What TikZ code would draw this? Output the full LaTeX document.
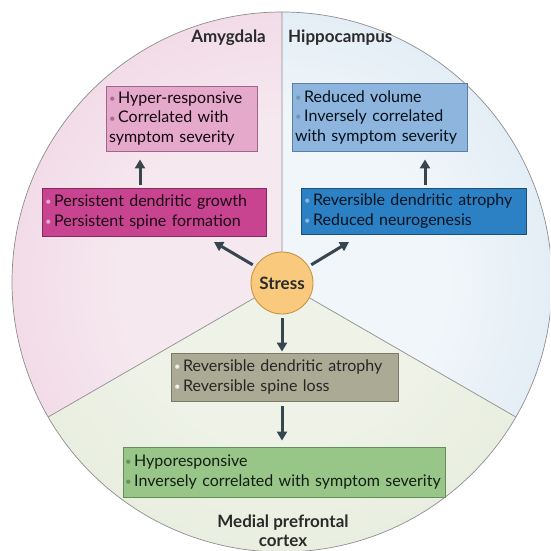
\documentclass[tikz,border=0pt]{standalone}
\usepackage{fontspec}
\usepackage{graphicx}
\setmainfont{Lato}
\usetikzlibrary{arrows.meta}
\hyphenpenalty=10000
\exhyphenpenalty=10000

% region tints
\definecolor{amyEdge}{HTML}{E7BDD4}
\definecolor{amyMid}{HTML}{F6E8EF}
\definecolor{hipEdge}{HTML}{C3DAEC}
\definecolor{hipMid}{HTML}{F1F6FA}
\definecolor{pfcEdge}{HTML}{DCE5CF}
\definecolor{pfcMid}{HTML}{EEF2E7}
% boxes
\definecolor{amyLightFill}{HTML}{E4A9CB}
\definecolor{amyLightLine}{HTML}{A2648B}
\definecolor{amyDarkFill}{HTML}{C84490}
\definecolor{amyDarkLine}{HTML}{86295E}
\definecolor{hipLightFill}{HTML}{8DB5DE}
\definecolor{hipLightLine}{HTML}{5B7FA6}
\definecolor{hipDarkFill}{HTML}{2C80C4}
\definecolor{hipDarkLine}{HTML}{1D4E78}
\definecolor{pfcGreyFill}{HTML}{ABAB95}
\definecolor{pfcGreyLine}{HTML}{7A7A68}
\definecolor{pfcGreenFill}{HTML}{98C588}
\definecolor{pfcGreenLine}{HTML}{658F59}
\definecolor{stressFill}{HTML}{F9CA7E}
\definecolor{stressLine}{HTML}{C8953E}
\definecolor{arrowInk}{HTML}{37454F}
\definecolor{labelInk}{HTML}{2A2A2A}
\definecolor{rimGrey}{HTML}{8E8E8E}

\pgfdeclareradialshading{amyglow}{\pgfpointorigin}{color(0bp)=(amyMid); color(15bp)=(amyMid); color(50bp)=(amyEdge)}
\pgfdeclareradialshading{hipglow}{\pgfpointorigin}{color(0bp)=(hipMid); color(15bp)=(hipMid); color(50bp)=(hipEdge)}
\pgfdeclareradialshading{pfcglow}{\pgfpointorigin}{color(0bp)=(pfcMid); color(15bp)=(pfcMid); color(50bp)=(pfcEdge)}

\newcommand\boxfont{\fontsize{16}{19.5}\selectfont}
\newcommand\bul[1]{{\color{#1}\raisebox{0.1ex}{\scalebox{0.7}{\textbullet}}}\,}

\tikzset{
  panel/.style={draw, line width=0.9pt, inner xsep=3pt, inner ysep=2pt,
    align=left, font=\boxfont, anchor=center},
  lbl/.style={font=\fontsize{17}{19}\selectfont\bfseries, text=labelInk, inner sep=0pt},
  arr/.style={draw=arrowInk, line width=3pt,
    -{Triangle[length=9pt,width=10pt]}},
  divider/.style={draw=rimGrey, line width=0.7pt}
}

\begin{document}
\begin{tikzpicture}[x=1pt,y=-1pt]
\useasboundingbox (0,0) rectangle (550,551);
\coordinate (C) at (282,282);

\begin{scope}
  \clip (0,0) rectangle (550,551);
  \begin{scope}
    \clip (C) circle[radius=270];
    % amygdala sector
    \begin{scope}
      \clip[shift={(C)}] (0,0) -- (150:700) -- (210:700) -- (270:700) -- cycle;
      \shade[shading=amyglow] (C) circle[radius=270];
    \end{scope}
    % hippocampus sector
    \begin{scope}
      \clip[shift={(C)}] (0,0) -- (270:700) -- (330:700) -- (30:700) -- cycle;
      \shade[shading=hipglow] (C) circle[radius=270];
    \end{scope}
    % medial prefrontal sector
    \begin{scope}
      \clip[shift={(C)}] (0,0) -- (30:700) -- (90:700) -- (150:700) -- cycle;
      \shade[shading=pfcglow] (C) circle[radius=270];
    \end{scope}
  \end{scope}
  % sector boundaries and rim
  \draw[divider, shift={(C)}] (0,0) -- (270:270) (0,0) -- (150:270) (0,0) -- (30:270);
  \draw[divider] (C) circle[radius=270];
\end{scope}

% region titles
\node[lbl, anchor=east] (lamy) at (266,38) {Amygdala};
\node[lbl, anchor=west] (lhip) at (288,38) {Hippocampus};
\node[lbl, align=center, anchor=south] (lpfc) at (283,547) {Medial prefrontal\\cortex};

% amygdala boxes
\node[panel, fill=amyLightFill, draw=amyLightLine, text=black!85!amyDarkLine,
      text width=145pt, minimum height=65pt] (amy2) at (181.5,118.5)
  {\bul{amyDarkLine!70}Hyper-responsive\\\bul{amyDarkLine!70}Correlated with\\symptom severity};
\node[panel, fill=amyDarkFill, draw=amyDarkLine, text=black!80!amyDarkLine,
      text width=218pt, minimum height=48pt] (amy1) at (154,212)
  {\bul{amyLightFill}Persistent dendritic growth\\\bul{amyLightFill}Persistent spine formation};

% hippocampus boxes
\node[panel, fill=hipLightFill, draw=hipLightLine, text=black!80!hipDarkLine,
      text width=169pt, minimum height=68pt] (hip2) at (379.5,117)
  {\bul{hipDarkLine!60}Reduced volume\\\bul{hipDarkLine!60}Inversely correlated\\with symptom severity};
\node[panel, fill=hipDarkFill, draw=hipDarkLine, text=black!75!hipDarkLine,
      text width=219pt, minimum height=46pt] (hip1) at (413.5,211)
  {\bul{hipLightFill}Reversible dendritic atrophy\\\bul{hipLightFill}Reduced neurogenesis};

% medial prefrontal boxes
\node[panel, fill=pfcGreyFill, draw=pfcGreyLine, text=black!85,
      text width=221pt, minimum height=48pt] (pfc1) at (284.5,377)
  {\bul{white!80!pfcGreyFill}Reversible dendritic atrophy\\\bul{white!80!pfcGreyFill}Reversible spine loss};
\node[panel, fill=pfcGreenFill, draw=pfcGreenLine, text=black!80!pfcGreenLine,
      inner xsep=1.5pt, text width=319pt, minimum height=50pt] (pfc2) at (284.5,472)
  {\bul{pfcGreenLine}Hyporesponsive\\\bul{pfcGreenLine}Inversely correlated with symptom severity};

% stress hub
\node[circle, draw=stressLine, line width=0.9pt, fill=stressFill, minimum size=62pt,
      inner sep=0pt, font=\fontsize{17}{19}\selectfont\bfseries, text=labelInk] (stress) at (282,283) {Stress};

% arrow end points
\coordinate (ul) at (214,242);
\coordinate (ur) at (349,242);
\coordinate (ax) at (140,0);
\coordinate (hx) at (425,0);

% connectors
\draw[arr, shorten <=3pt] (stress.148) -- (ul);
\draw[arr, shorten <=3pt] (stress.32) -- (ur);
\draw[arr, shorten <=4pt, shorten >=1pt] (stress.south) -- (pfc1.north -| stress);
\draw[arr, shorten <=5pt, shorten >=6pt] (pfc1.south -| stress) -- (pfc2.north -| stress);
\draw[arr, shorten <=3pt, shorten >=8pt] (amy1.north -| ax) -- (amy2.south -| ax);
\draw[arr, shorten <=3pt, shorten >=8pt] (hip1.north -| hx) -- (hip2.south -| hx);
\end{tikzpicture}
\end{document}
